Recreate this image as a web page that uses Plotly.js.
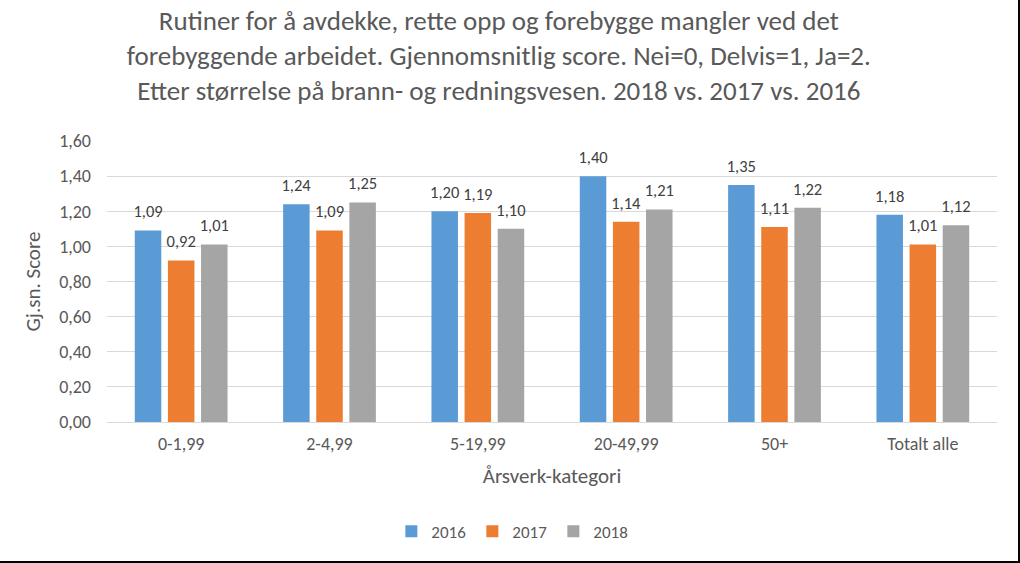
<!DOCTYPE html>
<html>
<head>
<meta charset="utf-8">
<script src="https://cdn.plot.ly/plotly-3.0.1.min.js"></script>
<style>
html,body{margin:0;padding:0;background:#fff;}
#wrap{width:1020px;height:563px;box-sizing:border-box;border-right:2px solid #000;border-bottom:2px solid #000;overflow:hidden;}
#chart{width:1018px;height:561px;}
</style>
</head>
<body>
<div id="wrap"><div id="chart"></div></div>
<script>
const categories = ["0-1,99", "2-4,99", "5-19,99", "20-49,99", "50+", "Totalt alle"];
const seriesNames = ["2016", "2017", "2018"];
const values2016 = [1.09, 1.24, 1.20, 1.40, 1.35, 1.18];
const values2017 = [0.92, 1.09, 1.19, 1.14, 1.11, 1.01];
const values2018 = [1.01, 1.25, 1.10, 1.21, 1.22, 1.12];
const colors = ["#5B9BD5", "#ED7D31", "#A5A5A5"];
const FONT = "Carlito, Lato, 'Open Sans', sans-serif";
const LABEL_PAD = 0.035; // visual gap between bar top and its label (in axis units)

const allValues = [values2016, values2017, values2018];
const traces = [];
allValues.forEach((vals, i) => {
  traces.push({
    type: "bar",
    name: seriesNames[i],
    x: categories,
    y: vals,
    offsetgroup: seriesNames[i],
    marker: {color: colors[i]},
    hoverinfo: "x+y+name"
  });
});
allValues.forEach((vals, i) => {
  traces.push({
    type: "bar",
    name: seriesNames[i] + " labels",
    x: categories,
    base: vals,
    y: vals.map(() => LABEL_PAD),
    offsetgroup: seriesNames[i],
    marker: {color: "rgba(0,0,0,0)"},
    text: vals.map(v => v.toFixed(2).replace(".", ",")),
    textposition: "outside",
    constraintext: "none",
    textfont: {size: 16.5, color: "#404040", family: FONT},
    cliponaxis: false,
    showlegend: false,
    hoverinfo: "skip"
  });
});

const layout = {
  width: 1018,
  height: 561,
  separators: ",.",
  barmode: "group",
  font: {family: FONT, color: "#595959", size: 17},
  paper_bgcolor: "#fff",
  plot_bgcolor: "#fff",
  margin: {l: 107, r: 21, t: 141, b: 139},
  title: {
    text: "Rutiner for å avdekke, rette opp og forebygge mangler ved det<br>forebyggende arbeidet. Gjennomsnitlig score. Nei=0, Delvis=1, Ja=2.<br>Etter størrelse på brann- og redningsvesen. 2018 vs. 2017 vs. 2016",
    font: {size: 27, color: "#595959", family: FONT},
    x: 0.49, xref: "container", xanchor: "center",
    y: 0.947, yref: "container", yanchor: "middle"
  },
  bargap: 0.33,
  bargroupgap: 0.2,
  xaxis: {
    type: "category",
    showgrid: false,
    showline: false,
    zeroline: false,
    ticks: "",
    ticklabelstandoff: 9,
    tickfont: {size: 18, color: "#595959"},
    title: {text: "Årsverk-kategori", font: {size: 21, color: "#595959"}, standoff: 14}
  },
  yaxis: {
    range: [0, 1.6],
    dtick: 0.2,
    tick0: 0,
    tickformat: ".2f",
    showgrid: true,
    gridcolor: "#D9D9D9",
    gridwidth: 1,
    zeroline: true,
    zerolinecolor: "#D9D9D9",
    zerolinewidth: 1,
    showline: false,
    ticks: "",
    ticklen: 0,
    ticklabelstandoff: 15,
    tickfont: {size: 18, color: "#595959"},
    title: {text: "Gj.sn. Score", font: {size: 21, color: "#595959"}, standoff: 12}
  },
  legend: {
    orientation: "h",
    x: 0.456, xanchor: "center",
    y: -0.39, yanchor: "middle",
    font: {size: 17, color: "#595959"},
    itemwidth: 30,
    entrywidth: 36,
    entrywidthmode: "pixels",
    traceorder: "normal"
  },
  showlegend: true
};

Plotly.newPlot("chart", traces, layout, {displayModeBar: false, staticPlot: true});
</script>
</body>
</html>
